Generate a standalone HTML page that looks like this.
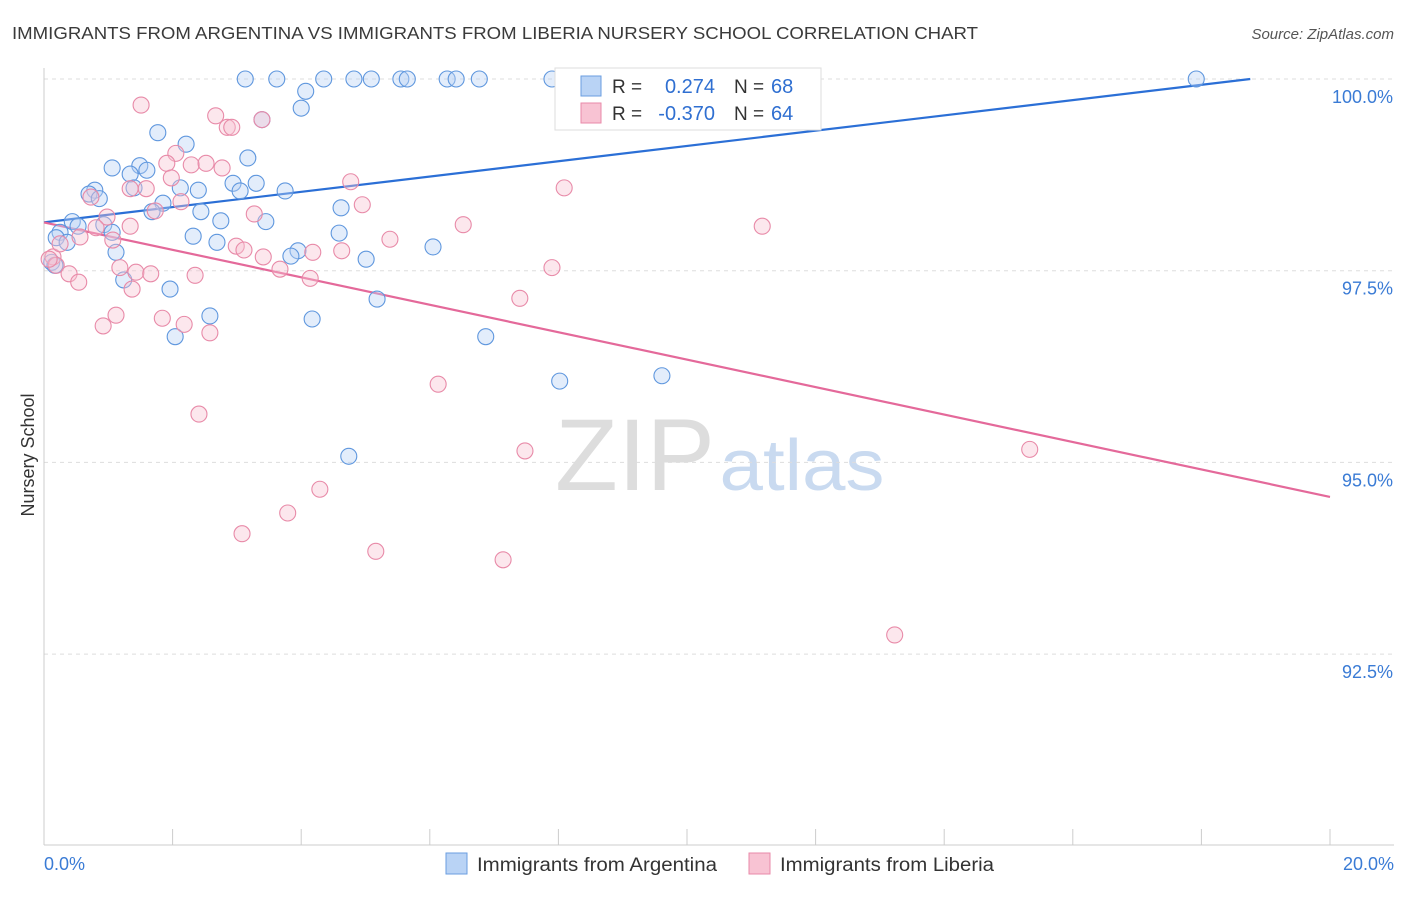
<!DOCTYPE html>
<html><head><meta charset="utf-8"><style>
body{margin:0;background:#fff;font-family:"Liberation Sans",sans-serif;}
svg text{font-family:"Liberation Sans",sans-serif;}
</style></head><body>
<svg id="chart" width="1406" height="892" xmlns="http://www.w3.org/2000/svg">
<text x="12" y="39" font-size="17.5" fill="#3a3a3a" textLength="966" lengthAdjust="spacingAndGlyphs">IMMIGRANTS FROM ARGENTINA VS IMMIGRANTS FROM LIBERIA NURSERY SCHOOL CORRELATION CHART</text>
<text x="1394" y="39" font-size="15" fill="#555" font-style="italic" text-anchor="end">Source: ZipAtlas.com</text>
<text x="635" y="490" font-size="102" fill="#ddd" font-family="Liberation Serif" text-anchor="middle" textLength="160" lengthAdjust="spacingAndGlyphs">ZIP</text>
<text x="802" y="490" font-size="72" fill="#c9daf0" text-anchor="middle" textLength="165" lengthAdjust="spacingAndGlyphs">atlas</text>
<text x="34" y="455" font-size="18" fill="#333" transform="rotate(-90 34 455)" text-anchor="middle">Nursery School</text>
<g id="grid"></g><g id="ticks"></g><g id="lines"></g><g id="points"></g>
<g>
<rect x="555" y="68" width="266" height="62" fill="#fff" stroke="#ddd"/>
<rect x="581" y="76" width="20" height="20" fill="#b9d3f5" stroke="#6a9ee0"/>
<rect x="581" y="103" width="20" height="20" fill="#f8c3d3" stroke="#e98aa8"/>
<text x="612" y="93" font-size="19" fill="#333">R =</text>
<text x="715" y="93" font-size="20" fill="#2f6fd1" text-anchor="end">0.274</text>
<text x="734" y="93" font-size="19" fill="#333">N =</text>
<text x="771" y="93" font-size="20" fill="#2f6fd1">68</text>
<text x="612" y="120" font-size="19" fill="#333">R =</text>
<text x="715" y="120" font-size="20" fill="#2f6fd1" text-anchor="end">-0.370</text>
<text x="734" y="120" font-size="19" fill="#333">N =</text>
<text x="771" y="120" font-size="20" fill="#2f6fd1">64</text>
</g>
<g>
<rect x="446" y="853" width="21" height="21" fill="#b9d3f5" stroke="#6a9ee0"/>
<text x="477" y="871" font-size="19" fill="#333" textLength="240" lengthAdjust="spacingAndGlyphs">Immigrants from Argentina</text>
<rect x="749" y="853" width="21" height="21" fill="#f8c3d3" stroke="#e98aa8"/>
<text x="780" y="871" font-size="19" fill="#333" textLength="214" lengthAdjust="spacingAndGlyphs">Immigrants from Liberia</text>
</g>
<text x="44" y="870" font-size="18" fill="#3a7bd5">0.0%</text>
<text x="1394" y="870" font-size="18" fill="#3a7bd5" text-anchor="end">20.0%</text>
</svg>
<script>
const yTicks=[100,97.5,95,92.5];
const yTickLabels=["100.0%","97.5%","95.0%","92.5%"];
const xTicks=[0,2,4,6,8,10,12,14,16,18,20];
const blueX=[3.13,3.62,4.35,4.82,5.09,5.55,5.65,6.27,6.41,6.77,7.90,8.20,8.96,17.92,4.07,10.82,4.00,3.39,1.77,2.21,3.17,1.06,1.49,1.60,1.34,1.40,2.94,3.30,3.05,2.12,2.40,3.75,0.79,0.70,0.86,1.85,1.68,2.44,4.62,0.44,2.75,3.45,0.53,0.93,0.25,1.06,2.32,4.59,0.19,0.36,2.69,6.05,1.12,3.95,3.84,5.01,0.12,0.17,1.24,1.96,5.18,2.58,4.17,2.04,6.87,8.02,9.61,4.74];
const blueY=[100,100,100,100,100,100,100,100,100,100,100,100,100,100,99.84,99.82,99.62,99.47,99.30,99.15,98.97,98.84,98.87,98.81,98.76,98.58,98.64,98.64,98.54,98.58,98.55,98.54,98.55,98.50,98.44,98.38,98.27,98.27,98.32,98.14,98.15,98.14,98.08,98.10,98.00,98.00,97.95,97.99,97.93,97.87,97.87,97.81,97.74,97.76,97.69,97.65,97.61,97.57,97.38,97.26,97.13,96.91,96.87,96.64,96.64,96.06,96.13,95.08];
const pinkX=[9.38,1.51,2.67,3.39,2.85,2.92,2.05,1.91,2.29,2.52,2.77,1.98,4.77,1.34,1.59,8.09,0.73,2.13,4.95,3.27,1.73,0.98,6.52,11.17,0.81,1.34,0.56,1.07,5.38,2.99,3.11,3.41,4.18,0.14,4.63,0.19,1.18,1.43,1.66,3.67,7.90,2.35,0.39,0.54,4.14,1.37,7.40,1.12,1.84,2.18,0.92,2.58,6.13,2.41,7.48,15.33,4.29,3.79,3.08,5.16,7.14,13.23,0.25,0.08];
const pinkY=[100,99.66,99.52,99.47,99.37,99.37,99.03,98.90,98.88,98.90,98.84,98.71,98.66,98.57,98.57,98.58,98.46,98.40,98.36,98.24,98.28,98.20,98.10,98.08,98.06,98.08,97.94,97.90,97.91,97.82,97.77,97.68,97.74,97.68,97.76,97.57,97.54,97.48,97.46,97.52,97.54,97.44,97.46,97.35,97.40,97.26,97.14,96.92,96.88,96.80,96.78,96.69,96.02,95.63,95.15,95.17,94.65,94.34,94.07,93.84,93.73,92.75,97.85,97.65];
const blueTrend=[[0,98.13],[18.76,100]];
const pinkTrend=[[0,98.13],[20,94.55]];
const X=v=>44+v/20*1286;
const Y=v=>79+(100-v)/2.5*191.7;
const NS="http://www.w3.org/2000/svg";
function mk(t,a,p){const e=document.createElementNS(NS,t);for(const k in a)e.setAttribute(k,a[k]);p.appendChild(e);return e;}
const grid=document.getElementById('grid'),ticks=document.getElementById('ticks'),lines=document.getElementById('lines'),pts=document.getElementById('points');
yTicks.forEach((v,i)=>{
 const l=mk('line',{x1:44,x2:1394,y1:Y(v),y2:Y(v),stroke:'#ddd','stroke-dasharray':'4 4'},grid);
 
 
 const t=mk('text',{x:1393,y:Y(v)+24,'font-size':18,fill:'#3a7bd5','text-anchor':'end'},ticks);
 t.textContent=yTickLabels[i];
 
 
});
const ax=mk('line',{x1:44,x2:44,y1:68,y2:845,stroke:'#ccc'},ticks);


const bx=mk('line',{x1:44,x2:1394,y1:845,y2:845,stroke:'#ccc'},ticks);


xTicks.forEach(v=>{
 const l=mk('line',{x1:X(v),x2:X(v),y1:829,y2:845,stroke:'#ccc'},ticks);
 
 
});
function dots(xs,ys,fill,stroke,name){
 xs.forEach((x,i)=>{
  const c=mk('circle',{cx:X(x),cy:Y(ys[i]),r:8,fill:fill,'fill-opacity':0.4,stroke:stroke,'stroke-width':1.1},pts);
  
  
 });
}
dots(blueX,blueY,'#b9d3f5','#5f97de','point-argentina');
dots(pinkX,pinkY,'#f8c3d3','#e88aa8','point-liberia');
const b=mk('line',{x1:X(blueTrend[0][0]),y1:Y(blueTrend[0][1]),x2:X(blueTrend[1][0]),y2:Y(blueTrend[1][1]),stroke:'#2b6fd6','stroke-width':2.2},lines);


const p=mk('line',{x1:X(pinkTrend[0][0]),y1:Y(pinkTrend[0][1]),x2:X(pinkTrend[1][0]),y2:Y(pinkTrend[1][1]),stroke:'#e4699a','stroke-width':2.2},lines);


</script>
</body></html>
